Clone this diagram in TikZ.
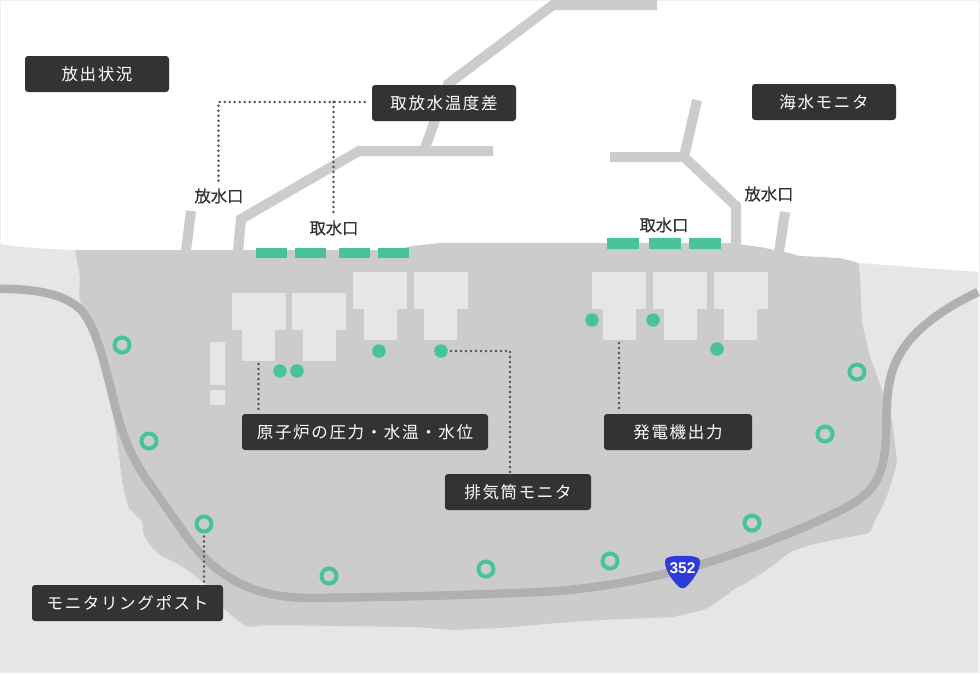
\documentclass[tikz,border=0pt]{standalone}
\usepackage{fontspec}
\newfontfamily\jpfont[LetterSpace=10]{Noto Sans CJK JP}
\newfontfamily\jpplain[FakeBold=0.5]{Noto Sans CJK JP}
\newfontfamily\roadfont[Scale=1]{Liberation Sans Bold}

\definecolor{landgray}{HTML}{E6E6E6}
\definecolor{sitegray}{HTML}{CCCCCC}
\definecolor{roadgray}{HTML}{B0B0B0}
\definecolor{boxdark}{HTML}{333333}
\definecolor{mintgreen}{HTML}{48C297}
\definecolor{routeblue}{HTML}{2E3BDC}

\tikzset{
  pipe/.style={draw=sitegray, line width=10pt},
  darklabel/.style={fill=boxdark, text=white, rounded corners=3pt, inner sep=0pt, font=\fontsize{16.5}{17}\selectfont\jpfont, minimum height=36pt},
  plainlabel/.style={text=boxdark, inner sep=0pt, font=\fontsize{16.3}{17}\selectfont\jpplain},
  hall/.style={fill=landgray, inner sep=0pt, outer sep=0pt, minimum width=54pt, minimum height=37pt, anchor=north},
  turbine/.style={fill=landgray, inner sep=0pt, outer sep=0pt, minimum width=33pt, minimum height=31pt, anchor=north},
  intake/.style={fill=mintgreen, inner sep=0pt, anchor=north west},
  sensor/.style={circle, fill=mintgreen, inner sep=0pt, minimum size=13.5pt},
  post/.style={circle, draw=mintgreen, line width=4pt, inner sep=0pt, minimum size=15pt},
  leader/.style={draw=boxdark!85, line width=2.8pt, line cap=round, dash pattern=on 0pt off 5pt}
}

\begin{document}
\begin{tikzpicture}[x=1pt,y=-1pt]

\useasboundingbox (0,0) rectangle (980,673);

%% - Draw ground
%% - --------------------------------------

\fill[white] (0,0) rectangle (980,673);
\draw[landgray!60, line width=1pt] (0.5,0.5) rectangle (979.5,672.5);
\fill[landgray] (0,244) -- (20,247) -- (50,249) -- (75,250) -- (859,263) -- (978,272) -- (978,672) -- (0,672) -- cycle;

%% - power station site

\fill[sitegray, rounded corners=2pt] (75,250) -- (395,250) -- (412,246) -- (440,243) -- (730,243) -- (760,247) -- (785,252) -- (800,256) -- (840,258) -- (859,263) -- (860,280) -- (862,323) -- (870,357) -- (882,390) -- (892,420) -- (897,460) -- (895,470) -- (888,493) -- (880,512) -- (875,520) -- (870,533) -- (833,540) -- (810,545) -- (790,552) -- (767,570) -- (743,585) -- (737,587) -- (713,605) -- (703,610) -- (673,617) -- (600,620) -- (557,623) -- (500,628) -- (450,630) -- (417,627) -- (267,625) -- (247,627) -- (237,620) -- (223,608) -- (207,585) -- (183,567) -- (160,555) -- (150,545) -- (143,533) -- (143,522) -- (128,507) -- (122,480) -- (118,447) -- (113,413) -- (105,370) -- (98,340) -- (85,315) -- (79,297) -- (80,277) -- cycle;

%% - Draw water pipes
%% - --------------------------------------

\draw[pipe] (191,211) -- (186,251);
\draw[pipe] (238,251) -- (241,219) -- (359,151) -- (493,151);
\draw[pipe] (424,151) -- (448,84) -- (553,5) -- (657,5);
\draw[pipe] (610,157) -- (684,157) -- (736,206) -- (736,246);
\draw[pipe] (684,157) -- (697,100);
\draw[pipe] (785,212) -- (779,252);

%% - Draw road
%% - --------------------------------------

\draw[roadgray, line width=8.5pt] (-4,289) .. controls (40,288) and (72,296) .. (85,315) .. controls (98,335) and (103,360) .. (110,385) .. controls (118,420) and (125,447) .. (145,477) -- (187,537) .. controls (215,575) and (250,597) .. (307,598) .. controls (400,597) and (470,595) .. (540,592) .. controls (600,589) and (650,578) .. (700,565) .. controls (760,546) and (810,526) .. (845,508) .. controls (870,495) and (882,480) .. (885,450) .. controls (888,420) and (884,400) .. (892,372) .. controls (902,340) and (930,315) .. (978,292);

%% - Draw buildings
%% - --------------------------------------

\foreach \name/\x/\y in {a/258.5/293, b/319/293, c/380/272, d/440.5/272, e/619/272, f/680/272, g/740.5/272} {
  \node[hall] (hall\name) at (\x,\y) {};
  \node[turbine] (unit\name) at (hall\name.south) {};
}

\node[fill=landgray, inner sep=0pt, minimum width=15pt, minimum height=43pt, anchor=north west] (tankhigh) at (210,342) {};
\node[fill=landgray, inner sep=0pt, minimum width=15pt, minimum height=15pt, anchor=north west] (tanklow) at (210,390) {};

%% - Draw intakes
%% - --------------------------------------

\foreach \name/\x in {a/256, b/295, c/339, d/378} {
  \node[intake, minimum width=31pt, minimum height=9.5pt] (intake\name) at (\x,248) {};
}
\foreach \name/\x in {e/607, f/649, g/689} {
  \node[intake, minimum width=32pt, minimum height=11pt] (intake\name) at (\x,238) {};
}

%% - Draw monitoring points
%% - --------------------------------------

\foreach \name/\x/\y in {a/280/371, b/297/371, c/379/351, d/441/351, e/592/320, f/653/320, g/717/349} {
  \node[sensor] (sensor\name) at (\x,\y) {};
}
\foreach \name/\x/\y in {a/122/345, b/149/441, c/204/524, d/329/576, e/486/569, f/610/561, g/752/523, h/825/434, i/857/372} {
  \node[post] (post\name) at (\x,\y) {};
}

%% - Draw route shield
%% - --------------------------------------

\fill[routeblue] (665,562) .. controls (665,558) and (668,557) .. (671,556.5) .. controls (678,555.5) and (687,555.5) .. (694,556.5) .. controls (697,557) and (700,558) .. (700,562) .. controls (700,571) and (692,581) .. (687,586) .. controls (684,589) and (681,589) .. (678,586) .. controls (673,581) and (665,571) .. (665,562) -- cycle;
\node[text=white, inner sep=0pt, font=\fontsize{15.5}{16}\selectfont\roadfont] (route) at (682.5,568) {352};

%% - Draw Texts
%% - --------------------------------------

\node[darklabel, minimum width=144pt] (release) at (97,74) {放出状況};
\node[darklabel, minimum width=144pt] (tempdiff) at (444,103) {取放水温度差};
\node[darklabel, minimum width=144pt] (seawater) at (824,102) {海水モニタ};
\node[darklabel, minimum width=246pt] (reactor) at (365,432) {原子炉の圧力・水温・水位};
\node[darklabel, minimum width=148pt] (output) at (678,432) {発電機出力};
\node[darklabel, minimum width=146pt] (stack) at (518,492) {排気筒モニタ};
\node[darklabel, minimum width=191pt] (postbox) at (127.5,603) {モニタリングポスト};

\node[plainlabel] (outleft) at (219,196) {放水口};
\node[plainlabel] (inleft) at (334,228) {取水口};
\node[plainlabel] (inright) at (664,225) {取水口};
\node[plainlabel] (outright) at (769,194) {放水口};

%% - Draw leader lines
%% - --------------------------------------

\coordinate (outbend) at (218.5,102);
\coordinate (inbend) at (333.5,102);
\coordinate (stackbend) at (510,351);

\draw[leader, shorten <=7pt, shorten >=4pt] (tempdiff.west |- inbend) -- (outbend) -- (outbend |- outleft.north);
\draw[leader, shorten >=5pt] (inbend) -- (inbend |- inleft.north);
\draw[leader, shorten <=3pt, shorten >=4pt] (unita.south) -- (unita.south |- reactor.north);
\draw[leader, shorten <=3pt, shorten >=4pt] (unite.south) -- (unite.south |- output.north);
\draw[leader, shorten <=3pt, shorten >=1pt] (sensord.east) -- (stackbend) -- (stackbend |- stack.north);
\draw[leader, shorten <=3pt, shorten >=2pt] (postc.south) -- (postc.south |- postbox.north);

\end{tikzpicture}
\end{document}
